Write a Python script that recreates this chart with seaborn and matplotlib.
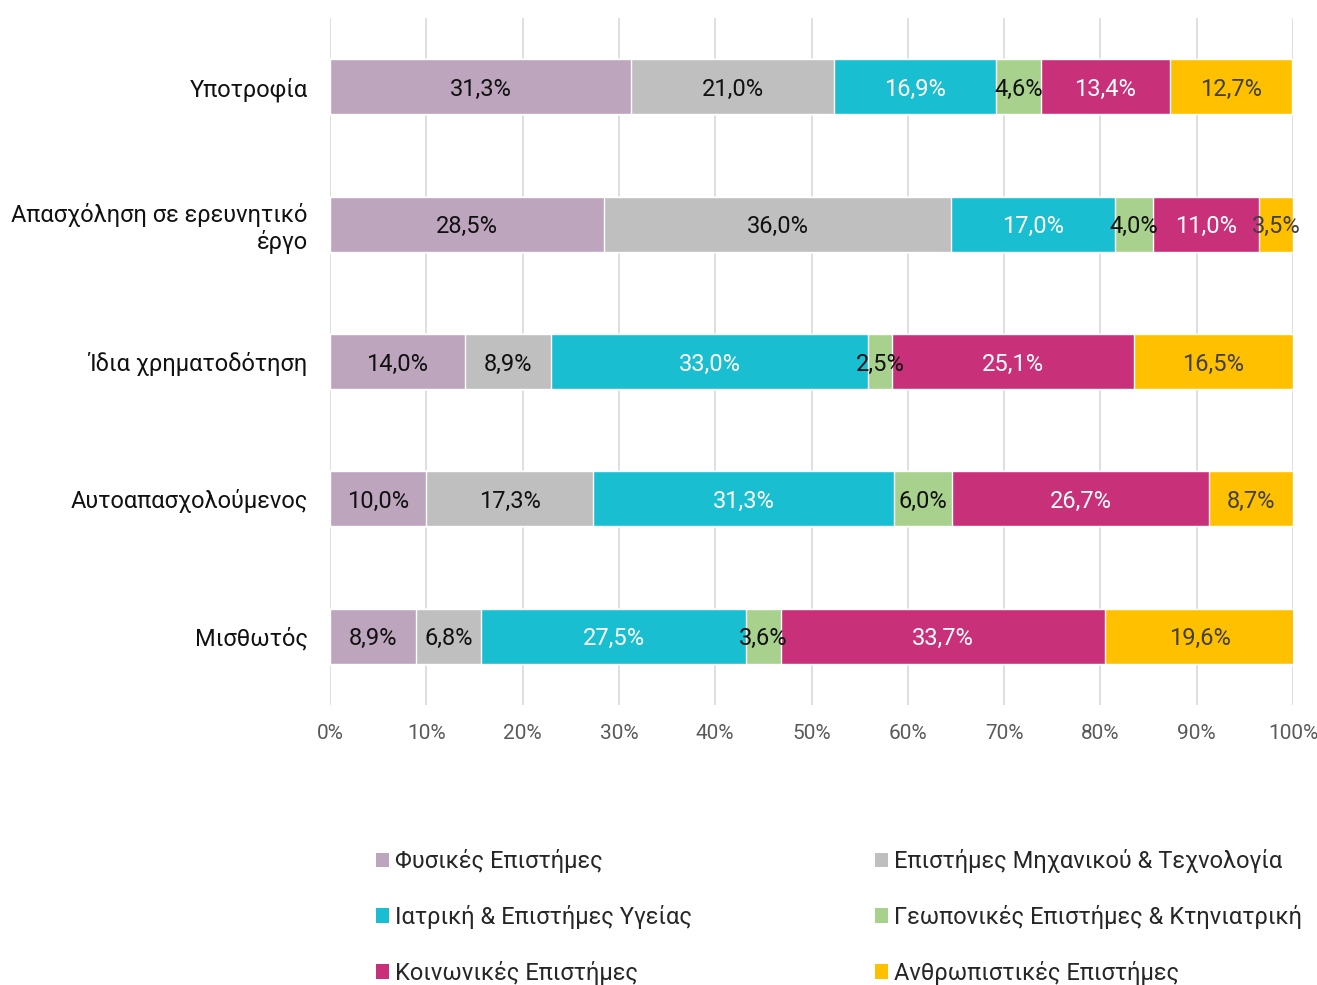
import matplotlib
matplotlib.use("Agg")
import matplotlib.pyplot as plt
import seaborn as sns
import pandas as pd
import numpy as np
from matplotlib.patches import Patch

categories = ["Υποτροφία", "Απασχόληση σε ερευνητικό\nέργο", "Ίδια χρηματοδότηση",
              "Αυτοαπασχολούμενος", "Μισθωτός"]
series_names = ["Φυσικές Επιστήμες", "Επιστήμες Μηχανικού & Τεχνολογία",
                "Ιατρική & Επιστήμες Υγείας", "Γεωπονικές Επιστήμες & Κτηνιατρική",
                "Κοινωνικές Επιστήμες", "Ανθρωπιστικές Επιστήμες"]
fysikes = [31.3, 28.5, 14.0, 10.0, 8.9]
michanikou = [21.0, 36.0, 8.9, 17.3, 6.8]
iatriki = [16.9, 17.0, 33.0, 31.3, 27.5]
geoponikes = [4.6, 4.0, 2.5, 6.0, 3.6]
koinonikes = [13.4, 11.0, 25.1, 26.7, 33.7]
anthropistikes = [12.7, 3.5, 16.5, 8.7, 19.6]
values = [fysikes, michanikou, iatriki, geoponikes, koinonikes, anthropistikes]
colors = ["#BDA5BD", "#BFBFBF", "#19BED1", "#A9D18E", "#C9307A", "#FFC000"]
label_colors = ["#111111", "#111111", "white", "#111111", "white", "#404040"]
xticks = [0, 10, 20, 30, 40, 50, 60, 70, 80, 90, 100]

sns.set_style("white")
plt.rcParams["font.family"] = ["Roboto", "DejaVu Sans"]

fig = plt.figure(figsize=(13.17, 9.85), dpi=100)
ax = fig.add_axes([330/1317, 1-705/985, (1293-330)/1317, (705-18)/985])

cum = np.cumsum(np.array(values), axis=0)
for i in range(len(values)-1, -1, -1):
    df = pd.DataFrame({"cat": categories, "val": cum[i]})
    sns.barplot(data=df, y="cat", x="val", orient="h", color=colors[i],
                saturation=1, width=0.4, ax=ax, zorder=2)

for i in range(len(values)):
    for j, cat in enumerate(categories):
        v = values[i][j]
        center = cum[i][j] - v/2
        ax.text(center, j, f"{v:.1f}%".replace(".", ","), ha="center",
                va="center_baseline", fontsize=17, color=label_colors[i], zorder=3)

ax.set_xlim(0, 100)
ax.set_ylim(4.5, -0.5)
ax.set_xticks(xticks)
ax.set_xticklabels([f"{t}%" for t in xticks], fontsize=15, color="#595959")
ax.tick_params(axis="x", pad=14, length=0)
ax.tick_params(axis="y", length=0, pad=16)
for lbl in ax.get_yticklabels():
    lbl.set_fontsize(17)
    lbl.set_color("#111111")
    lbl.set_multialignment("right")
ax.set_xlabel("")
ax.set_ylabel("")
ax.xaxis.grid(True, color="#D9D9D9", linewidth=1.2, zorder=0)
ax.set_axisbelow(True)
for s in ax.spines.values():
    s.set_visible(False)

handles = [Patch(facecolor=c, edgecolor="none") for c in colors]
for col, xpos in enumerate([376/1317, 875/1317]):
    idx = [col, col+2, col+4]
    fig.legend([handles[k] for k in idx], [series_names[k] for k in idx],
               loc="upper left", bbox_to_anchor=(xpos, 1-849/985), frameon=False,
               fontsize=17, handlelength=0.55, handleheight=0.55, handletextpad=0.25,
               labelspacing=1.35, borderpad=0, borderaxespad=0)

fig.savefig("out.png", dpi=100)
